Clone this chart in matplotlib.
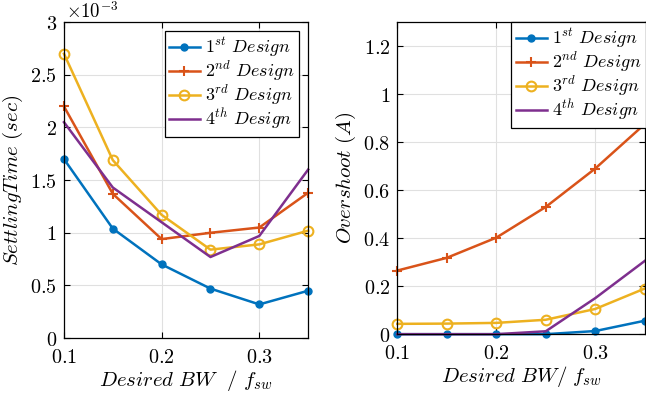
import numpy as np
import matplotlib.pyplot as plt
from matplotlib.ticker import FuncFormatter

plt.rcParams['mathtext.fontset'] = 'cm'
plt.rcParams['font.family'] = 'serif'

bw = [0.1, 0.15, 0.2, 0.25, 0.3, 0.35]

# settling time (x 1e-3 sec)
ts1 = [1.70, 1.04, 0.70, 0.47, 0.32, 0.45]
ts2 = [2.20, 1.37, 0.94, 1.00, 1.05, 1.38]
ts3 = [2.70, 1.69, 1.17, 0.84, 0.89, 1.02]
ts4 = [2.05, 1.43, 1.10, 0.77, 0.97, 1.60]

# overshoot (A)
os1 = [0.0, 0.0, 0.0, 0.0, 0.013, 0.056]
os2 = [0.265, 0.318, 0.402, 0.530, 0.690, 0.875]
os3 = [0.043, 0.044, 0.047, 0.060, 0.105, 0.190]
os4 = [0.0, 0.0, 0.0, 0.012, 0.150, 0.305]

names = [r'$1^{st}\ Design$', r'$2^{nd}\ Design$', r'$3^{rd}\ Design$', r'$4^{th}\ Design$']
cols = ['#0072BD', '#D95319', '#EDB120', '#7E2F8E']
styles = [dict(marker='o', ms=5), dict(marker='+', ms=7, mew=1.5),
          dict(marker='o', ms=7, mfc='none', mew=1.5), dict(marker=None)]

fmt = FuncFormatter(lambda v, p: r'$%g$' % round(v, 3))

fig = plt.figure(figsize=(6.46, 3.95), dpi=100)
ax1 = fig.add_axes([0.099, 0.144, 0.378, 0.800])
ax2 = fig.add_axes([0.615, 0.154, 0.383, 0.790])

for ax, series in [(ax1, [ts1, ts2, ts3, ts4]), (ax2, [os1, os2, os3, os4])]:
    for y, c, s, nm in zip(series, cols, styles, names):
        ax.plot(bw, y, color=c, lw=1.8, label=nm, clip_on=False, **s)
    ax.set_xlim(0.1, 0.35)
    ax.set_xticks([0.1, 0.2, 0.3])
    ax.grid(True, color='#e0e0e0', lw=0.8)
    ax.set_axisbelow(True)
    ax.tick_params(direction='in', top=True, right=True, labelsize=14.5, length=4)
    ax.tick_params(axis='x', pad=7)
    ax.tick_params(axis='y', pad=5)
    ax.xaxis.set_major_formatter(fmt)
    ax.yaxis.set_major_formatter(fmt)
    for sp in ax.spines.values():
        sp.set_linewidth(0.9)

leg_kw = dict(fontsize=13, fancybox=False, framealpha=1, edgecolor='black',
              borderpad=0.25, labelspacing=0.0, handlelength=1.7,
              handletextpad=0.3)
leg1 = ax1.legend(loc='upper right', borderaxespad=0.5, **leg_kw)
leg2 = ax2.legend(loc='upper right', bbox_to_anchor=(1.005, 1.0),
                  borderaxespad=0.0, **leg_kw)
for lg in (leg1, leg2):
    lg.get_frame().set_linewidth(0.9)

ax1.set_ylim(0, 3)
ax1.set_yticks([0, 0.5, 1, 1.5, 2, 2.5, 3])
ax1.set_xlabel(r'$Desired\ BW\ \ /\ f_{sw}$', fontsize=15, labelpad=1)
ax1.set_ylabel(r'$SettlingTime\ (sec)$', fontsize=15)
ax1.text(0.01, 1.0, r'$\times10^{-3}$', transform=ax1.transAxes, fontsize=13.5,
         ha='left', va='bottom')

ax2.set_ylim(0, 1.3)
ax2.set_yticks([0, 0.2, 0.4, 0.6, 0.8, 1, 1.2])
ax2.set_xlabel(r'$Desired\ BW/\ f_{sw}$', fontsize=15, labelpad=1)
ax2.set_ylabel(r'$Overshoot\ (A)$', fontsize=15)

fig.savefig('out.png', dpi=100)
